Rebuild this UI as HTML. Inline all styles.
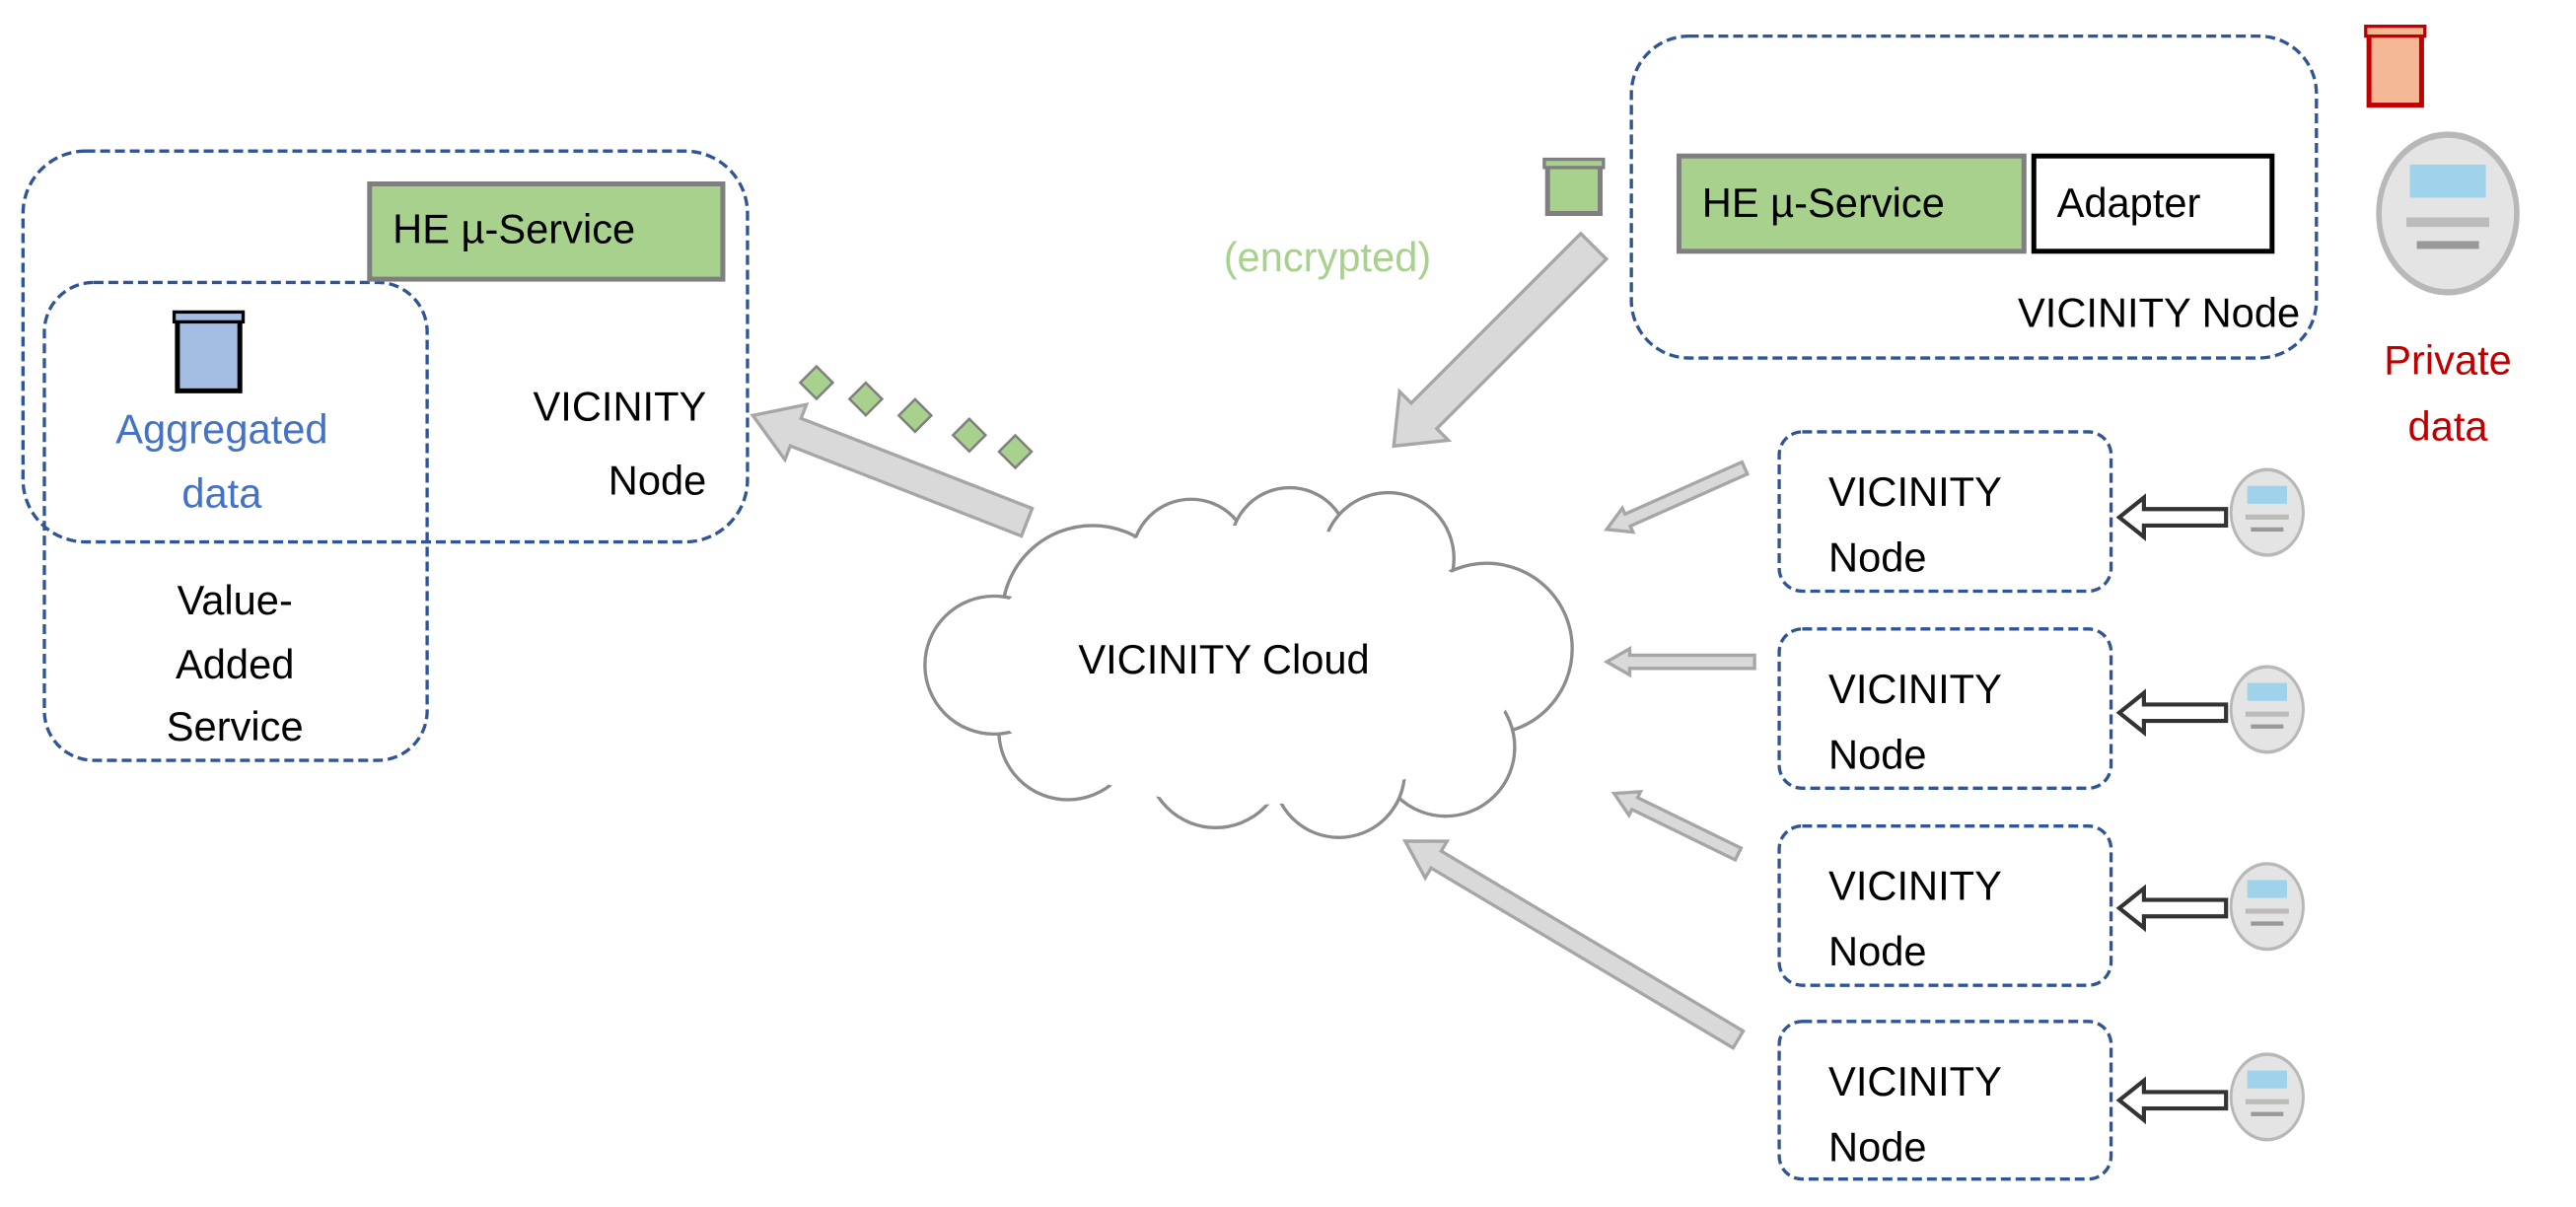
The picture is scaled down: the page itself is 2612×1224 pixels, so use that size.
<!DOCTYPE html>
<html><head><meta charset="utf-8"><style>
html,body{margin:0;padding:0;background:#fff}
svg{display:block}
text{font-family:"Liberation Sans",sans-serif;font-size:25px;fill:#000}
</style></head><body>
<svg width="2612" height="1224" viewBox="0 0 1568 735" preserveAspectRatio="none" xmlns="http://www.w3.org/2000/svg">
<defs>
<g id="meter">
<circle cx="0" cy="0" r="1" fill="#e4e4e4" stroke="#b8b8b8" stroke-width="0.08"/>
<rect x="-0.55" y="-0.62" width="1.1" height="0.42" fill="#9fd3ec"/>
<rect x="-0.6" y="0.05" width="1.2" height="0.12" fill="#bbb"/>
<rect x="-0.45" y="0.35" width="0.9" height="0.1" fill="#999"/>
</g>
</defs>
<g fill="none" stroke="#2f5597" stroke-width="2" stroke-dasharray="6,3">
<rect x="14" y="92" width="441" height="238" rx="38"/>
<rect x="27" y="172" width="233" height="291" rx="30"/>
<rect x="993" y="22" width="417" height="196" rx="35"/>
<rect x="1083" y="263" width="202" height="97" rx="14"/>
<rect x="1083" y="383" width="202" height="97" rx="14"/>
<rect x="1083" y="503" width="202" height="97" rx="14"/>
<rect x="1083" y="622" width="202" height="96" rx="14"/>
</g>
<rect x="225" y="112" width="215" height="58" fill="#a9d18e" stroke="#7f7f7f" stroke-width="3"/>
<text x="239" y="148">HE µ-Service</text>
<rect x="1022" y="95" width="210" height="58" fill="#a9d18e" stroke="#7f7f7f" stroke-width="3"/>
<text x="1036" y="132">HE µ-Service</text>
<rect x="1238" y="95" width="145" height="58" fill="#fff" stroke="#000" stroke-width="3"/>
<text x="1252" y="132">Adapter</text>
<text x="1400" y="199" text-anchor="end">VICINITY Node</text>
<rect x="108" y="192" width="38" height="46" fill="#a4bde2" stroke="#000" stroke-width="3"/>
<rect x="106" y="190" width="42" height="6" fill="#a4bde2" stroke="#000" stroke-width="2"/>
<rect x="1442" y="18" width="32" height="46" fill="#f4b896" stroke="#c00000" stroke-width="3"/>
<rect x="1440" y="16" width="36" height="6" fill="#f4b896" stroke="#c00000" stroke-width="2"/>
<rect x="942" y="99" width="32" height="31" fill="#a9d18e" stroke="#7f7f7f" stroke-width="3"/>
<rect x="940" y="97" width="36" height="5" fill="#a9d18e" stroke="#7f7f7f" stroke-width="2"/>
<text x="135" y="270" text-anchor="middle" style="fill:#4472c4">Aggregated</text>
<text x="135" y="309" text-anchor="middle" style="fill:#4472c4">data</text>
<text x="430" y="256" text-anchor="end">VICINITY</text>
<text x="430" y="301" text-anchor="end">Node</text>
<text x="143" y="374" text-anchor="middle">Value-</text>
<text x="143" y="413" text-anchor="middle">Added</text>
<text x="143" y="451" text-anchor="middle">Service</text>
<text x="808" y="165" text-anchor="middle" style="fill:#a9d18e">(encrypted)</text>
<text x="1490" y="228" text-anchor="middle" style="fill:#c00000">Private</text>
<text x="1490" y="268" text-anchor="middle" style="fill:#c00000">data</text>
<use href="#meter" transform="translate(1490,130) scale(42,48)"/>
<g fill="#a9d18e" stroke="#7f7f7f" stroke-width="1.5">
<rect x="-7" y="-7" width="14" height="14" transform="translate(497,233) rotate(45)"/>
<rect x="-7" y="-7" width="14" height="14" transform="translate(527,243) rotate(45)"/>
<rect x="-7" y="-7" width="14" height="14" transform="translate(557,253) rotate(45)"/>
<rect x="-7" y="-7" width="14" height="14" transform="translate(590,265) rotate(45)"/>
<rect x="-7" y="-7" width="14" height="14" transform="translate(618,275) rotate(45)"/>
</g>
<g fill="#fff" stroke="#8c8c8c" stroke-width="2">
<circle cx="665" cy="375" r="55"/>
<circle cx="725" cy="340" r="36"/>
<circle cx="785" cy="333" r="36"/>
<circle cx="845" cy="340" r="40"/>
<circle cx="905" cy="395" r="52"/>
<circle cx="880" cy="455" r="42"/>
<circle cx="815" cy="470" r="40"/>
<circle cx="740" cy="462" r="42"/>
<circle cx="650" cy="445" r="42"/>
<circle cx="605" cy="405" r="42"/>
</g>
<ellipse cx="760" cy="405" rx="165" ry="85" fill="#fff"/>
<text x="745" y="410" text-anchor="middle">VICINITY Cloud</text>
<g fill="#d9d9d9" stroke="#a6a6a6" stroke-width="2">
<polygon transform="translate(625,318) rotate(201.3)" points="0,-9 151,-9 151,-18 179,0 151,18 151,9 0,9"/>
<polygon transform="translate(970,150) rotate(135)" points="0,-11 146,-11 146,-21 172,0 146,21 146,11 0,11"/>
<polygon transform="translate(1062,285) rotate(156)" points="0,-4 78,-4 78,-8 92,0 78,8 78,4 0,4"/>
<polygon transform="translate(1068,403) rotate(180)" points="0,-4 76,-4 76,-8 90,0 76,8 76,4 0,4"/>
<polygon transform="translate(1058,520) rotate(206)" points="0,-4 70,-4 70,-8 84,0 70,8 70,4 0,4"/>
<polygon transform="translate(1058,633) rotate(210.8)" points="0,-6 214,-6 214,-13 236,0 214,13 214,6 0,6"/>
</g>
<text x="1113" y="308">VICINITY</text><text x="1113" y="348">Node</text>
<text x="1113" y="428">VICINITY</text><text x="1113" y="468">Node</text>
<text x="1113" y="548">VICINITY</text><text x="1113" y="588">Node</text>
<text x="1113" y="667">VICINITY</text><text x="1113" y="707">Node</text>
<g fill="#fff" stroke="#333" stroke-width="2.5">
<polygon points="1355,310 1305,310 1305,303 1290,315 1305,327 1305,320 1355,320"/>
<polygon points="1355,429 1305,429 1305,422 1290,434 1305,446 1305,439 1355,439"/>
<polygon points="1355,548 1305,548 1305,541 1290,553 1305,565 1305,558 1355,558"/>
<polygon points="1355,665 1305,665 1305,658 1290,670 1305,682 1305,675 1355,675"/>
</g>
<use href="#meter" transform="translate(1380,312) scale(22,26)"/>
<use href="#meter" transform="translate(1380,432) scale(22,26)"/>
<use href="#meter" transform="translate(1380,552) scale(22,26)"/>
<use href="#meter" transform="translate(1380,668) scale(22,26)"/>
</svg>
</body></html>
